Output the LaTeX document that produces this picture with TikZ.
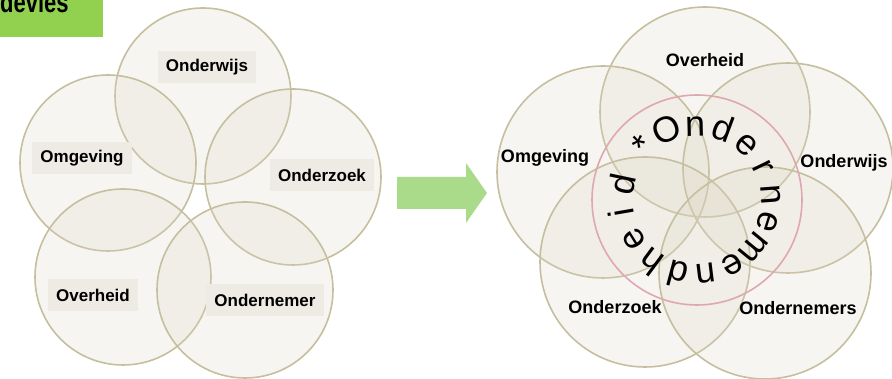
\documentclass[tikz,border=0pt]{standalone}
\usepackage{fontspec}
\setmainfont{Liberation Sans}
\usepackage{xcolor}
\usepackage{tikz}
\usetikzlibrary{positioning,calc}
\definecolor{deviesgreen}{HTML}{92D050}
\definecolor{deviesarrow}{HTML}{AADB8A}
\definecolor{ringline}{HTML}{C6BF9F}
\definecolor{ringfill}{HTML}{D9D3C0}
\definecolor{ringpink}{HTML}{DFA8B0}
\definecolor{labelbg}{HTML}{EEEBE4}

\begin{document}
\begin{tikzpicture}[x=1pt,y=1pt,
    ring/.style={circle,draw=ringline,line width=1.6pt,fill=ringfill,
                 fill opacity=0.22,minimum size=#1,inner sep=0pt},
    ring/.default=176,
    lbl/.style={font=\bfseries\fontsize{17}{20}\selectfont,inner sep=0pt},
    boxlbl/.style={lbl,fill=labelbg,minimum height=32pt,inner xsep=8pt},
    rlbl/.style={font=\bfseries\fontsize{18}{21}\selectfont,inner sep=0pt},
    letter/.style={font=\fontsize{36}{40}\selectfont,inner sep=0pt,anchor=base},
  ]
    \useasboundingbox (0,0) rectangle (892,379);
    \clip (0,0) rectangle (892,379);

    % tag in the top left corner
    \node[fill=deviesgreen,minimum width=103pt,minimum height=37pt,
          inner sep=0pt,anchor=north west] (tag) at (0,379) {};
    \node[font=\bfseries\fontsize{22}{24}\selectfont,inner sep=0pt,
          yscale=1.3,anchor=base west] (tagtext) at (0,366) {devies};

    % left: five separate rings
    \node[ring] (l-wijs)  at (203,283) {};
    \node[ring] (l-omg)   at (108,216) {};
    \node[ring] (l-zoek)  at (293,202) {};
    \node[ring] (l-over)  at (123,102) {};
    \node[ring] (l-nemer) at (245,89)  {};

    \node[boxlbl] (lt-wijs)  at (207,312) {Onderwijs};
    \node[boxlbl] (lt-omg)   at (82,221)  {Omgeving};
    \node[boxlbl] (lt-zoek)  at (322,204) {Onderzoek};
    \node[boxlbl] (lt-over)  at (93,84)   {Overheid};
    \node[boxlbl] (lt-nemer) at (265,79)  {Ondernemer};

    % arrow between the two halves
    \fill[deviesarrow] (397,170) -- (466,170) -- (466,156) -- (487,186)
        -- (466,216) -- (466,202) -- (397,202) -- cycle;

    % right: rings pushed together round the pink one
    \node[ring=210] (r-over)  at (705,267) {};
    \node[ring=212] (r-omg)   at (603,207) {};
    \node[ring=210] (r-wijs)  at (788,211) {};
    \node[ring=210] (r-zoek)  at (645,117) {};
    \node[ring=212] (r-nemer) at (765,106) {};
    \node[circle,draw=ringpink,line width=1.6pt,minimum size=210,
          inner sep=0pt] (r-core) at (697,179) {};

    \node[rlbl] (rt-over)  at (705,319) {Overheid};
    \node[rlbl] (rt-omg)   at (545,221) {Omgeving};
    \node[rlbl] (rt-wijs)  at (844,216) {Onderwijs};
    \node[rlbl] (rt-zoek)  at (615,72)  {Onderzoek};
    \node[rlbl] (rt-nemer) at (798,71)  {Ondernemers};

    % letters set round the middle, clockwise
    \foreach \ch [count=\i] in {*,O,n,d,e,r,n,e,m,e,n,d,h,e,i,d}{
      \pgfmathsetmacro\ang{135-21.8*(\i-1)}
      \node[letter,rotate=\ang-90] (ch-\i) at ($(r-core.center)+(\ang:64)$) {\ch};
    }
  \end{tikzpicture}
\end{document}
